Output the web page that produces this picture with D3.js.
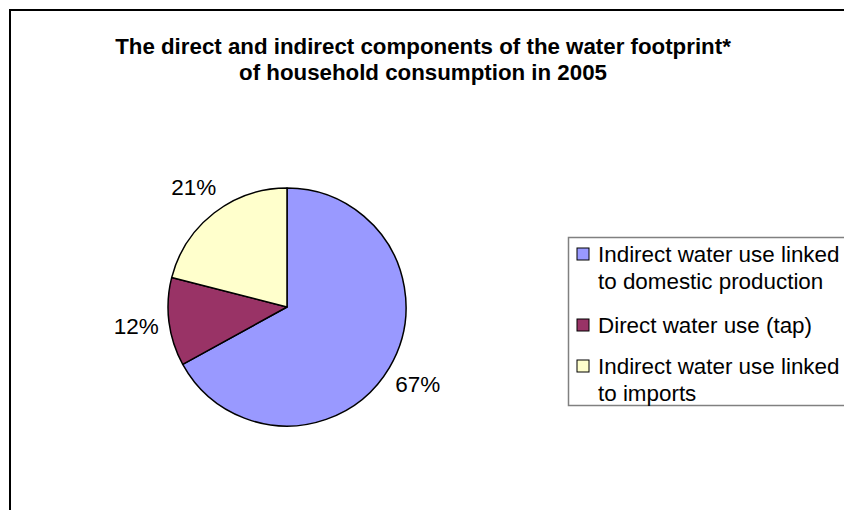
<!DOCTYPE html>
<html>
<head>
<meta charset="utf-8">
<script src="https://cdn.jsdelivr.net/npm/d3@7"></script>
<style>
  html, body { margin: 0; padding: 0; background: #fff; }
  svg { display: block; font-family: "Liberation Sans", Arial, sans-serif; }
</style>
</head>
<body>
<svg id="chart" width="844" height="510"></svg>
<script>
// Shares of the household water footprint, 2005 (percent)
const categories = [
  "Indirect water use linked to domestic production",
  "Direct water use (tap)",
  "Indirect water use linked to imports"
];
const shares = [67, 12, 21];
const sliceColors = ["#9999ff", "#993366", "#ffffcc"];
const legendLines = [
  ["Indirect water use linked", "to domestic production"],
  ["Direct water use (tap)"],
  ["Indirect water use linked", "to imports"]
];
const titleLines = [
  "The direct and indirect components of the water footprint*",
  "of household consumption in 2005"
];

const svg = d3.select("#chart");
const W = 844, H = 510;

// chart area frame (continues past the right and bottom edges)
svg.append("rect")
  .attr("x", 10).attr("y", 10)
  .attr("width", W + 20).attr("height", H + 20)
  .attr("fill", "#fff").attr("stroke", "#000").attr("stroke-width", 2);

// title
svg.append("g").selectAll("text").data(titleLines).join("text")
  .attr("x", 423)
  .attr("y", (d, i) => 54 + i * 26)
  .attr("text-anchor", "middle")
  .attr("font-size", 22.3).attr("font-weight", "bold")
  .attr("fill", "#000")
  .text(d => d);

// pie
const cx = 287, cy = 307, r = 119;
const pie = d3.pie().sort(null).value(d => d.value);
const arcs = pie(shares.map((v, i) => ({ value: v, i })));
const arc = d3.arc().innerRadius(0).outerRadius(r);
const labelArc = d3.arc().innerRadius(r + 33).outerRadius(r + 33);

const g = svg.append("g").attr("transform", `translate(${cx},${cy})`);
g.selectAll("path").data(arcs).join("path")
  .attr("d", arc)
  .attr("fill", d => sliceColors[d.data.i])
  .attr("stroke", "#000").attr("stroke-width", 1.5)
  .attr("stroke-linejoin", "round");

g.selectAll("text").data(arcs).join("text")
  .attr("transform", d => `translate(${labelArc.centroid(d)})`)
  .attr("text-anchor", "middle")
  .attr("dy", "0.36em")
  .attr("font-size", 22.5)
  .attr("fill", "#000")
  .text(d => d3.format(".0f")(d.data.value) + "%");

// legend
const lg = svg.append("g");
lg.append("rect")
  .attr("x", 568.5).attr("y", 237.5)
  .attr("width", 320).attr("height", 168)
  .attr("fill", "#fff").attr("stroke", "#808080").attr("stroke-width", 1.5);

const itemY = [254, 325, 366];
const items = lg.selectAll("g.item").data(categories).join("g")
  .attr("class", "item")
  .attr("transform", (d, i) => `translate(577,${itemY[i]})`);
items.append("rect")
  .attr("x", 0).attr("y", -6)
  .attr("width", 12).attr("height", 12)
  .attr("fill", (d, i) => sliceColors[i])
  .attr("stroke", "#000").attr("stroke-width", 1);
items.append("text")
  .attr("x", 21)
  .attr("font-size", 22.4)
  .attr("fill", "#000")
  .selectAll("tspan").data((d, i) => legendLines[i]).join("tspan")
  .attr("x", 21)
  .attr("y", (d, j) => 8 + j * 27)
  .text(d => d);
</script>
</body>
</html>
